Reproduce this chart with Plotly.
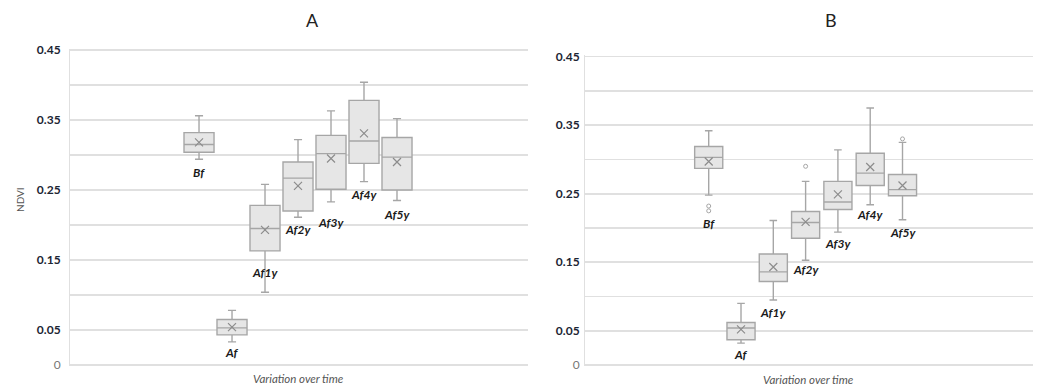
import plotly.graph_objects as go

# ---------------- data ----------------
categories = ["Bf", "Af", "Af1y", "Af2y", "Af3y", "Af4y", "Af5y"]

A_q1 = [0.304, 0.043, 0.163, 0.220, 0.251, 0.288, 0.250]
A_median = [0.315, 0.053, 0.195, 0.267, 0.302, 0.320, 0.297]
A_q3 = [0.332, 0.065, 0.228, 0.290, 0.328, 0.378, 0.325]
A_low = [0.294, 0.033, 0.104, 0.211, 0.233, 0.262, 0.235]
A_high = [0.356, 0.078, 0.258, 0.322, 0.363, 0.404, 0.352]
A_mean = [0.318, 0.054, 0.193, 0.256, 0.295, 0.331, 0.290]
A_label_y = [0.275, 0.018, 0.132, 0.194, 0.203, 0.243, 0.215]

B_q1 = [0.287, 0.037, 0.122, 0.185, 0.227, 0.262, 0.247]
B_median = [0.303, 0.054, 0.136, 0.208, 0.238, 0.280, 0.256]
B_q3 = [0.319, 0.062, 0.162, 0.224, 0.268, 0.309, 0.278]
B_low = [0.248, 0.032, 0.095, 0.153, 0.194, 0.234, 0.212]
B_high = [0.342, 0.090, 0.211, 0.268, 0.314, 0.375, 0.325]
B_mean = [0.297, 0.052, 0.143, 0.209, 0.249, 0.289, 0.262]
B_outlier_cat = ["Bf", "Bf", "Af2y", "Af5y"]
B_outlier_val = [0.232, 0.225, 0.290, 0.330]
B_label_y = [0.206, 0.016, 0.077, 0.139, 0.177, 0.219, 0.194]

y_tick_vals = [0, 0.05, 0.10, 0.15, 0.20, 0.25, 0.30, 0.35, 0.40, 0.45]
y_tick_text = ['<span style="color:#777777">0</span>', "<b>0.05</b>", "", "<b>0.15</b>", "",
               "<b>0.25</b>", "", "<b>0.35</b>", "", "<b>0.45</b>"]

# ---------------- styles ----------------
W, H = 1038, 387
FONT = "Lato"
BOX_LINE = "#a6a6a6"
BOX_FILL = "#e6e6e6"
GRID = "#e0e0e0"

fig = go.Figure()

pos = list(range(len(categories)))


def add_panel(q1, med, q3, lo, hi, mean, xa, ya, width):
    for i, c in enumerate(categories):
        fig.add_trace(go.Box(
            x=[pos[i]], q1=[q1[i]], median=[med[i]], q3=[q3[i]],
            lowerfence=[lo[i]], upperfence=[hi[i]],
            width=width, whiskerwidth=0.27,
            fillcolor=BOX_FILL, line=dict(color=BOX_LINE, width=1.4),
            xaxis=xa, yaxis=ya, showlegend=False, hoverinfo="skip",
        ))
    fig.add_trace(go.Scatter(
        x=pos, y=mean, mode="markers", xaxis=xa, yaxis=ya,
        marker=dict(symbol="x-thin", size=8, color="#8c8c8c",
                    line=dict(color="#8c8c8c", width=1.2)),
        showlegend=False, hoverinfo="skip",
    ))


add_panel(A_q1, A_median, A_q3, A_low, A_high, A_mean, "x", "y", 0.91)
add_panel(B_q1, B_median, B_q3, B_low, B_high, B_mean, "x2", "y2", 0.87)

fig.add_trace(go.Scatter(
    x=[categories.index(c) for c in B_outlier_cat], y=B_outlier_val, mode="markers",
    xaxis="x2", yaxis="y2",
    marker=dict(symbol="circle-open", size=4, color="#a6a6a6",
                line=dict(color="#a6a6a6", width=1)),
    showlegend=False, hoverinfo="skip",
))

label_font = dict(family=FONT, size=12, color="#1a1a1a")
annotations = []
for i, c in enumerate(categories):
    annotations.append(dict(x=pos[i], y=A_label_y[i], xref="x", yref="y",
                            text="<b><i>%s</i></b>" % c, showarrow=False,
                            xanchor="center", yanchor="middle", font=label_font))
    annotations.append(dict(x=pos[i], y=B_label_y[i], xref="x2", yref="y2",
                            text="<b><i>%s</i></b>" % c, showarrow=False,
                            xanchor="center", yanchor="middle", font=label_font))


def paper_note(px, py, text, size, color, angle=0):
    return dict(x=px / W, y=1 - py / H, xref="paper", yref="paper", text=text,
                showarrow=False, xanchor="center", yanchor="middle", textangle=angle,
                font=dict(family=FONT, size=size, color=color))


annotations += [
    paper_note(312, 20, "A", 18, "#222222"),
    paper_note(831, 20, "B", 18, "#222222"),
    paper_note(298, 378, "<i>Variation over time</i>", 11.5, "#555555"),
    paper_note(808, 379.5, "<i>Variation over time</i>", 11.5, "#555555"),
    paper_note(20, 200, "NDVI", 10, "#555555", -90),
]

yaxis_common = dict(
    tickmode="array", tickvals=y_tick_vals, ticktext=y_tick_text,
    showgrid=True, gridcolor=GRID, gridwidth=1.6,
    zeroline=True, zerolinecolor=GRID, zerolinewidth=1.6,
    showline=True, linecolor=GRID, linewidth=1,
    ticks="", tickfont=dict(family=FONT, size=12, color="#1c2533"),
    fixedrange=True, automargin=False,
)
xaxis_common = dict(showgrid=False, zeroline=False, showticklabels=False, showline=False,
                    fixedrange=True, automargin=False)

fig.update_layout(
    width=W, height=H,
    margin=dict(l=0, r=0, t=0, b=0, pad=0, autoexpand=False),
    paper_bgcolor="white", plot_bgcolor="white",
    boxmode="overlay",
    annotations=annotations,
    xaxis=dict(domain=[70 / W, 528 / W], range=[-3.91, 9.97], **xaxis_common),
    xaxis2=dict(domain=[585 / W, 1033 / W], range=[-3.83, 10.04], **xaxis_common),
    yaxis=dict(domain=[1 - 366.4 / H, 1 - 48.6 / H], range=[-0.002, 0.452],
               anchor="x", ticklabelstandoff=6, **yaxis_common),
    yaxis2=dict(domain=[1 - 366.4 / H, 1 - 55.3 / H], range=[-0.002, 0.452],
                anchor="x2", ticklabelstandoff=2, **yaxis_common),
)

page_fix = ("document.documentElement.style.margin='0';"
            "document.documentElement.style.padding='0';"
            "document.documentElement.style.overflow='hidden';"
            "document.body.style.margin='0';"
            "document.body.style.padding='0';"
            "document.body.style.overflow='hidden';"
            "window.scrollTo(0,0);")

fig.write_html("out.html", config={"displayModeBar": False, "staticPlot": True},
               post_script=page_fix)
